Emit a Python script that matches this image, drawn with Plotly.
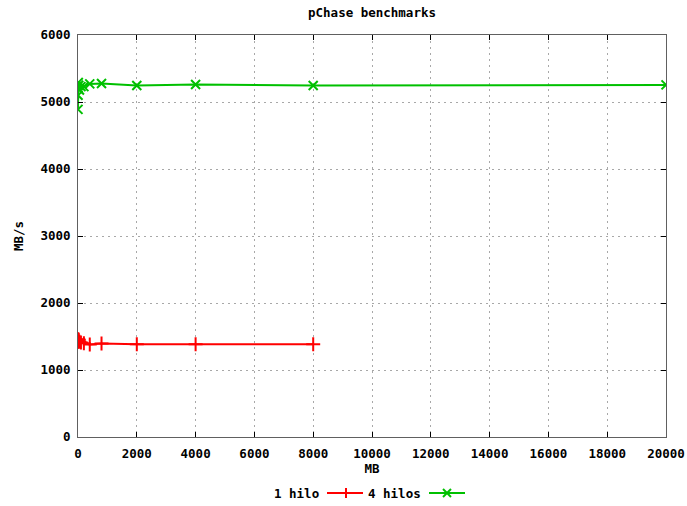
import plotly.graph_objects as go

title = "pChase benchmarks"
x_label = "MB"
y_label = "MB/s"

x1 = [1, 2, 5, 10, 25, 50, 100, 200, 400, 800, 2000, 4000, 8000]
y1 = [1420, 1440, 1460, 1430, 1450, 1420, 1410, 1400, 1380, 1395, 1385, 1385, 1385]
name1 = "1 hilo"

x4 = [1, 2, 5, 10, 25, 50, 100, 200, 400, 800, 2000, 4000, 8000, 20000]
y4 = [4890, 5100, 5200, 5290, 5250, 5180, 5230, 5230, 5270, 5275, 5245, 5260, 5245, 5255]
name4 = "4 hilos"

x_ticks = [0, 2000, 4000, 6000, 8000, 10000, 12000, 14000, 16000, 18000, 20000]
y_ticks = [0, 1000, 2000, 3000, 4000, 5000, 6000]

red = "#ff0000"
green = "#00c000"
font = dict(family="DejaVu Sans Mono", size=12.5, color="black", weight="bold")

fig = go.Figure()
fig.add_trace(go.Scatter(x=x1, y=y1, mode="lines+markers", name=name1,
                         line=dict(color=red, width=2),
                         marker=dict(symbol="cross-thin", size=10, line=dict(color=red, width=2)),
                         showlegend=False))
fig.add_trace(go.Scatter(x=x4, y=y4, mode="lines+markers", name=name4,
                         line=dict(color=green, width=2),
                         marker=dict(symbol="x-thin", size=9, line=dict(color=green, width=2)),
                         showlegend=False))

W, H = 687, 506
L, R, T, B = 78, 21, 35, 69
pw, ph = W - L - R, H - T - B

def px(x):
    return (x - L) / pw

def py(y):
    return (H - B - y) / ph

shapes = []
annotations = []
# legend (gnuplot style: text then sample)
ly = py(493)
annotations.append(dict(x=px(321), y=ly, xref="paper", yref="paper", text=name1,
                        showarrow=False, xanchor="right", yanchor="middle", font=font))
shapes.append(dict(type="line", xref="paper", yref="paper", x0=px(327), x1=px(363), y0=ly, y1=ly,
                   line=dict(color=red, width=2)))
shapes.append(dict(type="line", xref="paper", yref="paper", x0=px(346), x1=px(346), y0=py(488), y1=py(498),
                   line=dict(color=red, width=2)))
annotations.append(dict(x=px(423), y=ly, xref="paper", yref="paper", text=name4,
                        showarrow=False, xanchor="right", yanchor="middle", font=font))
shapes.append(dict(type="line", xref="paper", yref="paper", x0=px(429), x1=px(465), y0=ly, y1=ly,
                   line=dict(color=green, width=2)))
shapes.append(dict(type="line", xref="paper", yref="paper", x0=px(443), x1=px(451), y0=py(489), y1=py(497),
                   line=dict(color=green, width=2)))
shapes.append(dict(type="line", xref="paper", yref="paper", x0=px(443), x1=px(451), y0=py(497), y1=py(489),
                   line=dict(color=green, width=2)))

fig.update_layout(
    width=W, height=H,
    margin=dict(l=L, r=R, t=T, b=B),
    paper_bgcolor="white", plot_bgcolor="white",
    font=font,
    title=dict(text=title, x=(L + pw / 2) / W, xanchor="center", y=1 - 13 / H, yanchor="middle", font=font),
    shapes=shapes, annotations=annotations,
    showlegend=False,
)
fig.update_xaxes(range=[0, 20000], tickvals=x_ticks, ticktext=[str(v) for v in x_ticks],
                 showgrid=True, gridcolor="#a8a8a8", griddash="2px,4px", gridwidth=1,
                 showline=True, linecolor="#606060", linewidth=1, mirror="ticks",
                 ticks="inside", ticklen=5, tickcolor="#000000", automargin=False,
                 ticklabelstandoff=5,
                 zeroline=False, title=dict(text=x_label, font=font, standoff=2),
                 tickfont=font)
fig.update_yaxes(range=[0, 6000], tickvals=y_ticks, ticktext=[str(v) for v in y_ticks],
                 showgrid=True, gridcolor="#a8a8a8", griddash="2px,4px", gridwidth=1,
                 showline=True, linecolor="#606060", linewidth=1, mirror="ticks",
                 ticks="inside", ticklen=5, tickcolor="#000000", automargin=False,
                 ticklabelstandoff=4,
                 zeroline=False, title=dict(text=y_label, font=font, standoff=14),
                 tickfont=font)

fig.write_html("out.html")
